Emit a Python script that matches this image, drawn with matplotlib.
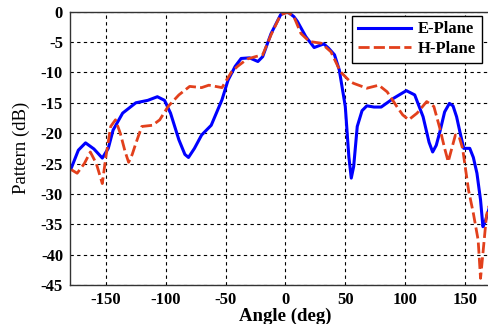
import matplotlib.pyplot as plt
import numpy as np

# E-plane (blue, solid)
e_angle = np.array([-179, -173, -167, -160, -153, -148, -144, -136, -125, -115,
                    -107, -101, -96, -89, -84, -81, -76, -70, -62, -53, -48,
                    -42, -37, -30, -23, -19, -12, -4, 0, 3, 7, 10, 17, 24, 28,
                    32, 36, 41, 45, 50, 53, 55, 57, 60, 64, 68, 74, 80, 90,
                    101, 108, 115, 120, 123, 126, 129, 133, 137, 140, 143,
                    146, 149, 154, 157, 160, 163, 165, 167, 170])
e_db = np.array([-25.8, -22.8, -21.6, -22.6, -24.1, -22.5, -19.5, -16.7, -15.0,
                 -14.6, -14.0, -14.6, -16.7, -21.1, -23.5, -24.0, -22.5, -20.3,
                 -18.7, -14.5, -11.3, -9.0, -7.7, -7.6, -8.2, -7.4, -3.6, -0.5,
                 -0.1, -0.2, -0.8, -1.6, -4.1, -5.9, -5.6, -5.3, -6.0, -7.1,
                 -9.6, -15.6, -23.9, -27.4, -25.5, -18.9, -16.3, -15.5, -15.7,
                 -15.7, -14.3, -13.0, -13.7, -17.3, -21.5, -23.1, -22.0, -19.8,
                 -16.5, -15.1, -15.5, -17.3, -20.0, -22.5, -22.5, -24.0, -26.6,
                 -31.0, -35.4, -34.5, -32.5])

# H-plane (red, dashed)
h_angle = np.array([-179, -174, -168, -163, -158, -153, -150, -146, -142, -138,
                    -134, -131, -128, -125, -120, -111, -105, -98, -89, -80,
                    -70, -64, -53, -45, -40, -32, -25, -19, -12, -4, 2, 7,
                    13, 20, 30, 38, 46, 54, 57, 68, 78, 85, 93, 98, 103, 110,
                    118, 124, 129, 133, 136, 139, 142, 145, 148, 153, 157,
                    161, 163, 165, 168, 170])
h_db = np.array([-26.0, -26.6, -25.0, -23.1, -25.0, -28.3, -23.9, -18.9,
                 -17.8, -20.0, -23.0, -24.8, -23.5, -21.7, -18.9, -18.7, -17.8,
                 -15.6, -13.7, -12.3, -12.5, -12.1, -12.5, -9.9, -9.0, -7.8,
                 -7.4, -7.1, -3.8, -0.5, -0.1, -0.8, -3.6, -4.9, -5.2, -6.6,
                 -9.9, -11.5, -11.8, -12.6, -12.1, -13.2, -15.6, -17.0, -17.8,
                 -16.7, -14.8, -15.6, -19.2, -22.5, -24.7, -22.5, -20.3, -20.5,
                 -22.5, -29.4, -33.2, -37.6, -43.9, -39.8, -33.5, -32.0])

plt.rcParams['font.family'] = ['Liberation Serif', 'DejaVu Serif']
plt.rcParams['axes.unicode_minus'] = False

fig = plt.figure(figsize=(4.88, 3.24), dpi=100)
# axes run past the right edge, the reference is cropped there
ax = fig.add_axes([0.1434, 0.1204, 0.883, 0.8435])

ax.plot(e_angle, e_db, color='#0000ff', linewidth=2.2, label='E-Plane')
ax.plot(h_angle, h_db, color='#e2401c', linewidth=2.0, linestyle=(0, (4, 1.5)),
        label='H-Plane')

ax.set_xlim(-180, 180)
ax.set_ylim(-45, 0)
ax.set_xticks([-150, -100, -50, 0, 50, 100, 150])
ax.set_yticks(np.arange(-45, 1, 5))
ax.tick_params(labelsize=12, length=0, pad=5)
for lbl in ax.get_xticklabels() + ax.get_yticklabels():
    lbl.set_fontweight('bold')

ax.grid(True, color='black', linestyle=(0, (3, 3)), linewidth=0.8)
for s in ax.spines.values():
    s.set_linewidth(1.0)
    s.set_color('#333333')

ax.set_xlabel('Angle (deg)', fontsize=13.5, fontweight='bold', labelpad=0)
ax.set_ylabel('Pattern (dB)', fontsize=13.5, labelpad=8)

leg = ax.legend(loc='upper left', bbox_to_anchor=(0.654, 0.986), fancybox=False,
                framealpha=1, edgecolor='black', borderpad=0.35,
                borderaxespad=0, labelspacing=0.2, handletextpad=0.4,
                handlelength=3.2, prop={'weight': 'bold', 'size': 12})
leg.get_frame().set_linewidth(1.0)

fig.savefig('out.png', dpi=100)
